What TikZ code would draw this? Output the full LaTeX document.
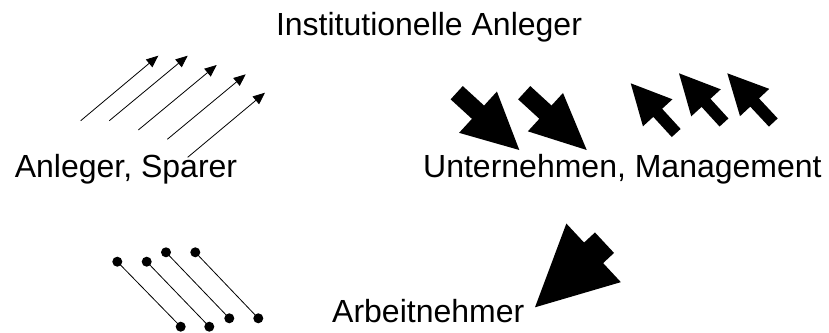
\documentclass[tikz,border=0pt]{standalone}
\usepackage{fontspec}
\setmainfont{Liberation Sans}
\usetikzlibrary{arrows.meta,calc}

% Blockpfeil: #1 Ende, #2 Spitze, #3 Kopflaenge, #4 halbe Schaftbreite, #5 halbe Kopfbreite
\newcommand{\blockpfeil}[5]{%
	\coordinate (ba) at (#1);
	\coordinate (ti) at (#2);
	\coordinate (hb) at ($(ti)!#3!(ba)$);
	\fill ($(ba)!#4!90:(ti)$) -- ($(hb)!#4!90:(ti)$) -- ($(hb)!#5!90:(ti)$) -- (ti)
	-- ($(hb)!#5!-90:(ti)$) -- ($(hb)!#4!-90:(ti)$) -- ($(ba)!#4!-90:(ti)$) -- cycle;
}

\begin{document}
\begin{tikzpicture}[x=1pt, y=-1pt, line join=round, >={Triangle[length=12pt,width=10pt]},
	font=\fontsize{32}{38}\selectfont,
	beschriftung/.style={inner sep=0pt, anchor=base}]
	\useasboundingbox (0,0) rectangle (829,332);
	
	% Beschriftungen
	\node[beschriftung] (inst) at (429,35) {Institutionelle Anleger};
	\node[beschriftung] (anleger) at (126,177) {Anleger, Sparer};
	\node[beschriftung, anchor=base west] (unternehmen) at (423,177) {Unternehmen, Management};
	\node[beschriftung, anchor=base west] (arbeitnehmer) at (332,322) {Arbeitnehmer};
	
	% Duenne Pfeile
	\foreach \xa/\ya/\xb/\yb in {80.7/120.7/158.3/55.7, 109.3/120.7/187.7/55.7,
		138.3/130/216.7/65, 167.3/139.3/245.7/74.3, 187.7/157.3/265/92.7}
	\draw[line width=0.8pt,->] (\xa,\ya) -- (\xb,\yb);
	
	% Linien mit Punkten
	\foreach \xa/\ya/\xb/\yb in {117.3/261.7/180.7/326.7, 146.7/261.7/209.3/326.7,
		166/252.3/229.3/318.3, 195.3/252.3/258.3/318.3}
	{
		\draw[line width=0.8pt] (\xa,\ya) -- (\xb,\yb);
		\fill (\xa,\ya) circle (5pt) (\xb,\yb) circle (5pt);
	}
	
	% Dicke Pfeile nach rechts unten
	\blockpfeil{456.7,92.7}{519.3,150}{56pt}{9pt}{28pt}
	\blockpfeil{524.2,92.7}{586.7,150}{56pt}{9pt}{26pt}
	
	% Dicke Pfeile nach links oben
	\blockpfeil{676.2,133}{630.7,83.3}{40pt}{6pt}{20pt}
	\blockpfeil{724,122.5}{679,73.3}{40pt}{6pt}{20pt}
	\blockpfeil{773.3,122.5}{727.3,73.3}{40pt}{6pt}{20pt}
	
	% Grosser Pfeil
	\blockpfeil{604.5,242.7}{535,307.3}{80pt}{14pt}{40pt}
\end{tikzpicture}
\end{document}
